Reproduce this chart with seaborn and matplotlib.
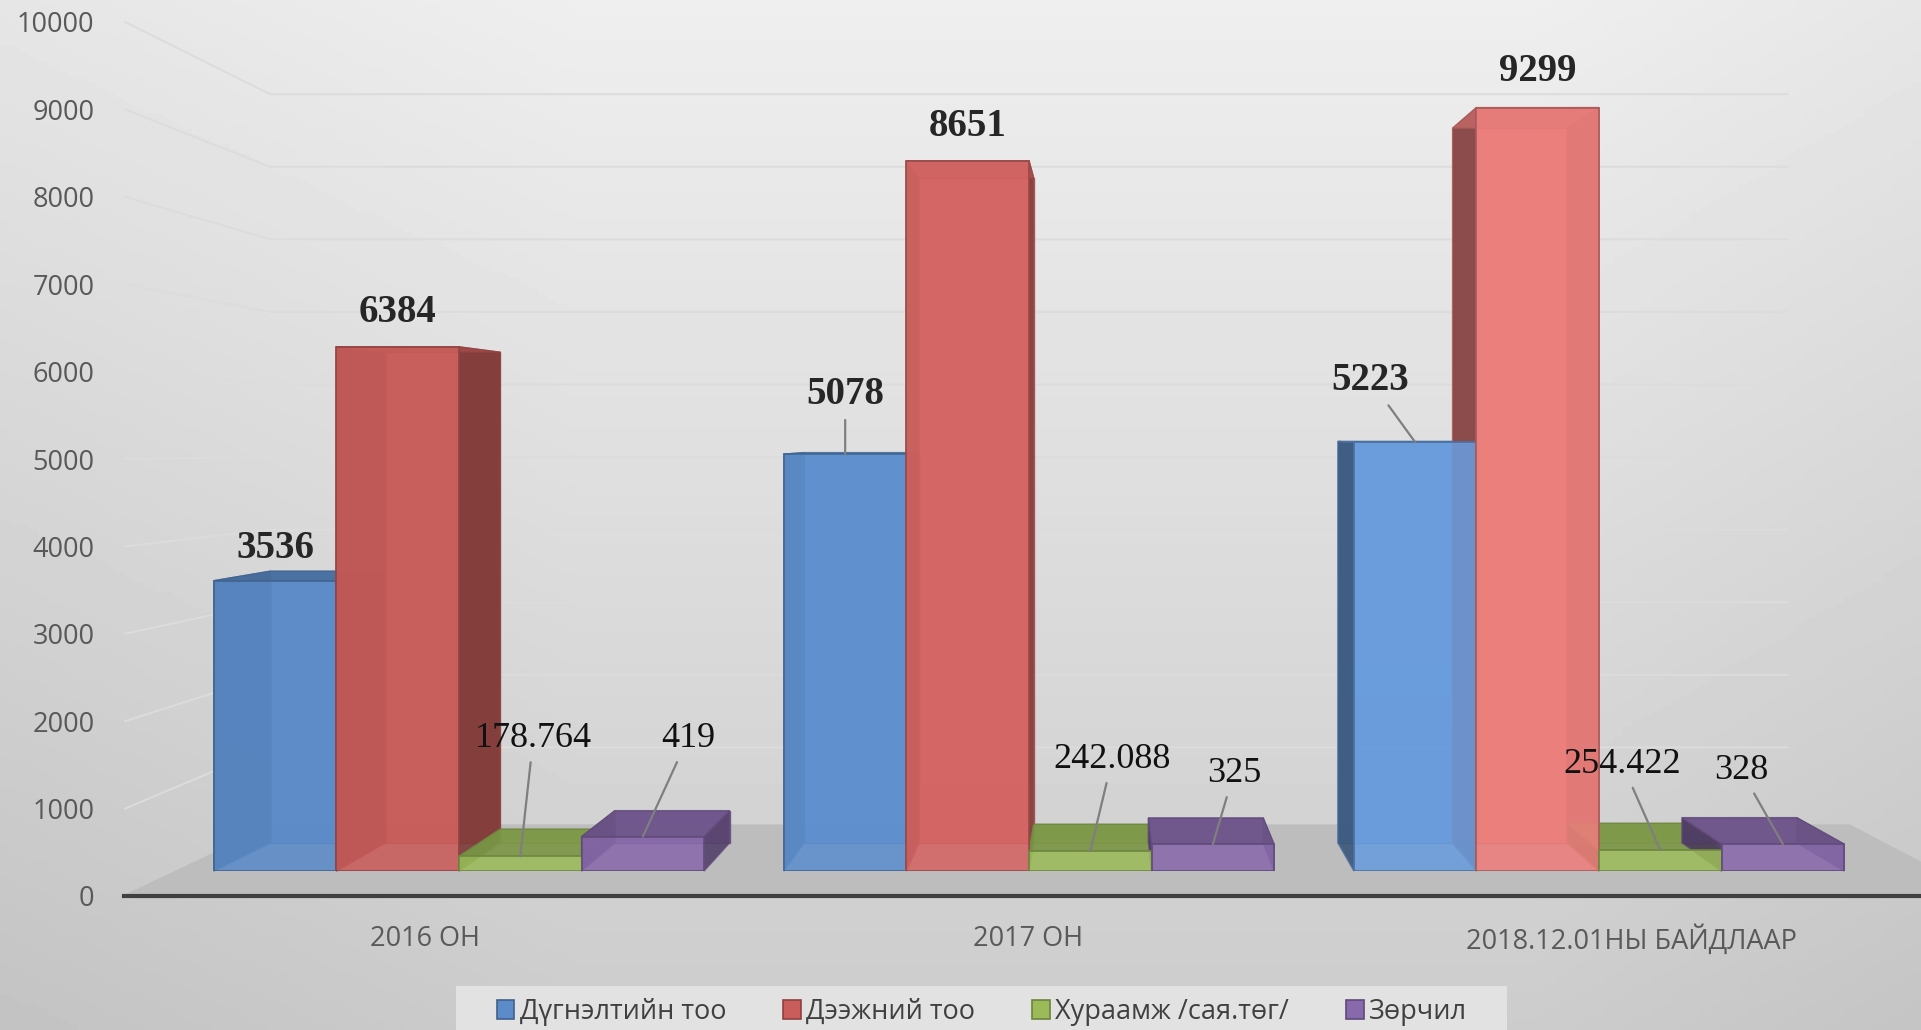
import numpy as np
import pandas as pd
import matplotlib
matplotlib.use("Agg")
import matplotlib.pyplot as plt
import seaborn as sns
from matplotlib.patches import Polygon, Patch, Rectangle
from matplotlib.lines import Line2D
from matplotlib.transforms import IdentityTransform
from matplotlib.colors import to_rgb

# =========================
# DATA
# =========================

categories = ["2016 ОН", "2017 ОН", "2018.12.01НЫ БАЙДЛААР"]
series = ["Дүгнэлтийн тоо", "Дээжний тоо", "Хураамж /сая.төг/", "Зөрчил"]

dugnelt = [3536, 5078, 5223]
deej = [6384, 8651, 9299]
khuraamj = [178.764, 242.088, 254.422]
zorchil = [419, 325, 328]

yticks = list(range(0, 10001, 1000))

df = pd.DataFrame({
    "category": categories * 4,
    "series": [s for s in series for _ in categories],
    "value": dugnelt + deej + khuraamj + zorchil,
})

colors = ["#5b8bc8", "#c95d5b", "#9bbb59", "#8869ab"]

# =========================
# FIGURE / BACKGROUND
# =========================

sns.set_style("white")
plt.rcParams['font.family'] = ['Open Sans', 'DejaVu Sans']

W, H = 1921, 1030
fig = plt.figure(figsize=(W / 100, H / 100), dpi=100)
fig.patch.set_facecolor("#d9d9d9")

bg = fig.add_axes([0, 0, 1, 1], zorder=-2)
yy, xx = np.mgrid[0:1:200j, 0:1:200j]
shade = (0.935 - 0.135 * yy
         - 0.035 * np.clip(1 - xx / 0.3, 0, 1)
         - 0.03 * np.clip((xx - 0.8) / 0.2, 0, 1))
bg.imshow(shade, cmap="gray", vmin=0, vmax=1, extent=[0, 1, 0, 1],
          aspect="auto", origin="upper")
bg.set_xlim(0, 1)
bg.set_ylim(0, 1)
bg.axis("off")

# perspective helper (display pixels, origin bottom-left)
VP = np.array([1103.0, H - 431.0])


def toward(p, s):
    return VP + (np.asarray(p, dtype=float) - VP) * s


def shade_col(c, f):
    return tuple(np.clip(np.array(to_rgb(c)) * f, 0, 1))


def brighten(c, f, w):
    c = np.clip(np.array(to_rgb(c)) * f, 0, 1)
    return tuple(c + (1 - c) * w)

# =========================
# AXES WITH TICKS
# =========================

ax = fig.add_axes([123.5 / W, 1 - 896 / H, 1809 / W, (896 - 22) / H], zorder=0)
ax.patch.set_alpha(0)
ax.set_xlim(-0.5, 2.5)
ax.set_ylim(0, 10000)
ax.set_yticks(yticks)
ax.set_xticks(range(len(categories)))
ax.set_xticklabels(categories)
for side in ["left", "top", "right"]:
    ax.spines[side].set_visible(False)
ax.spines["bottom"].set_color("#404040")
ax.spines["bottom"].set_linewidth(3)
ax.spines["bottom"].set_zorder(5)
ax.tick_params(axis="y", length=0, labelsize=19.5, labelcolor="#595959", pad=21)
ax.tick_params(axis="x", length=0, labelsize=19.5, labelcolor="#595959", pad=21)

# =========================
# BAR AXES
# =========================

axb = fig.add_axes([174 / W, 1 - 871 / H, 1710 / W, (871 - 50) / H], zorder=1)

sns.barplot(
    data=df, x="category", y="value", hue="series",
    order=categories, hue_order=series, palette=colors,
    width=0.86, gap=0, saturation=1, legend=False,
    errorbar=None, ax=axb
)
axb.set_xlim(-0.5, 2.5)
axb.set_ylim(0, 10000)
axb.axis("off")

fig.canvas.draw()

# floor
floor_fl = np.array([122.0, H - 896.0])
floor_fr = np.array([1986.0, H - 896.0])
floor = Polygon([floor_fl, toward(floor_fl, 0.846), toward(floor_fr, 0.846), floor_fr],
                closed=True, transform=IdentityTransform(),
                facecolor="#bdbdbd", edgecolor="none", zorder=1)
bg.add_patch(floor)

# perspective gridlines on the back wall
for v in yticks[1:]:
    y_tick = ax.transData.transform((0, v))[1]
    y_front = axb.transData.transform((0, v))[1]
    corner = toward((161.0, y_front), 0.884)
    bg.add_line(Line2D([125, corner[0], 1788], [y_tick, corner[1], corner[1]],
                       transform=IdentityTransform(), color="#dcdcdc", lw=1.4, zorder=2))

# legend box
bg.add_patch(Rectangle((456, 0), 1051, H - 986, transform=IdentityTransform(),
                       facecolor="#e2e2e2", edgecolor="none", zorder=1))

# 3D-looking bar bodies (tall bars catch more light toward the right)
light = {
    (1, 0): (1.03, 0.0), (1, 1): (1.05, 0.02),
    (2, 0): (1.10, 0.03), (2, 1): (1.16, 0.12),
}
bw = 0.86 / len(series)
bar_info = {}
for patch in list(axb.patches):
    x0 = patch.get_x()
    w = patch.get_width()
    h = patch.get_height()
    cx = x0 + w / 2
    ci = int(round(cx))
    si = int(round((cx - ci) / bw + 1.5))
    gain, white = light.get((ci, si), (1.0, 0.0))
    base = brighten(colors[si], gain, white)
    bar_info[(ci, si)] = (cx, h)

    F = axb.transData.transform([(x0, 0), (x0 + w, 0), (x0 + w, h), (x0, h)])
    B = np.array([toward(p, 0.936) for p in F])
    edge = shade_col(base, 0.72)
    faces = [
        (B, base, 0.85),
        (np.array([F[0], F[3], B[3], B[0]]), shade_col(base, 0.55), 0.9),
        (np.array([F[1], F[2], B[2], B[1]]), shade_col(base, 0.62), 0.9),
        (np.array([F[3], F[2], B[2], B[3]]), shade_col(base, 0.8), 0.9),
    ]
    for pts, fc, a in faces:
        axb.add_patch(Polygon(pts, closed=True, transform=IdentityTransform(),
                              facecolor=(*fc, a), edgecolor=(*edge, 0.8),
                              lw=1, zorder=2, clip_on=False))
    patch.set_facecolor((*base, 0.88))
    patch.set_edgecolor(edge)
    patch.set_linewidth(1.2)
    patch.set_zorder(3)

# =========================
# DATA LABELS
# =========================

label_pos = {
    (0, 0): (0, 32, False), (0, 1): (0, 34, False),
    (1, 0): (0, 60, True), (1, 1): (0, 34, False),
    (2, 0): (-45, 62, True), (2, 1): (0, 36, False),
    (0, 2): (13, 118, True), (0, 3): (45, 98, True),
    (1, 2): (22, 92, True), (1, 3): (21, 71, True),
    (2, 2): (-38, 86, True), (2, 3): (-42, 74, True),
}

for (ci, si), (cx, h) in bar_info.items():
    dx, dy, leader = label_pos[(ci, si)]
    big = si < 2
    props = dict(arrowstyle="-", color="#7f7f7f", lw=1.6, shrinkA=3, shrinkB=0) if leader else None
    axb.annotate(
        f"{h:g}", xy=(cx, h), xytext=(dx, dy), textcoords="offset pixels",
        ha="center", va="center",
        family=["Liberation Serif", "DejaVu Serif"],
        fontsize=28 if big else 26,
        fontweight="bold" if big else "normal",
        color="#262626" if big else "#111111",
        arrowprops=props, zorder=6, annotation_clip=False
    )

# =========================
# LEGEND
# =========================

handles = [Patch(facecolor=c, edgecolor=shade_col(c, 0.7), lw=1.2) for c in colors]
fig.legend(
    handles, series, loc="center", bbox_to_anchor=(982 / W, 1 - 1012 / H),
    ncol=4, frameon=False, fontsize=19.5, handlelength=0.65, handleheight=0.65,
    handletextpad=0.2, columnspacing=2.1, borderpad=0, borderaxespad=0,
    labelcolor="#404040"
)

plt.savefig("out.png", dpi=100)
